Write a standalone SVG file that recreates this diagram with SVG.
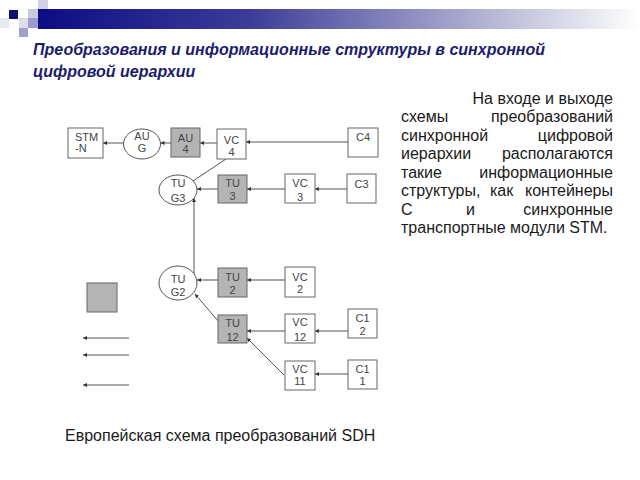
<svg xmlns="http://www.w3.org/2000/svg" width="640" height="480" viewBox="0 0 640 480">
<defs>
<linearGradient id="bar" x1="0" y1="0" x2="1" y2="0">
<stop offset="0" stop-color="#0c0c84"/>
<stop offset="0.35" stop-color="#3c3c98"/>
<stop offset="0.7" stop-color="#a6a6cc"/>
<stop offset="1" stop-color="#ffffff"/>
</linearGradient>
<marker id="ah" viewBox="0 0 6 6" refX="6" refY="3" markerWidth="4" markerHeight="4" orient="auto" markerUnits="userSpaceOnUse">
<path d="M0,0 L6,3 L0,6 z" fill="#333"/>
</marker>
<style>
.box{fill:#fff;stroke:#666;stroke-width:1}
.gbox{fill:#b4b4b4;stroke:#666;stroke-width:1}
.ell{fill:#fff;stroke:#555;stroke-width:1}
.lbl{font-family:"Liberation Sans",Arial,sans-serif;font-size:11px;fill:#444;text-anchor:middle}
.con{stroke:#555;stroke-width:1;fill:none}
.arr{marker-end:url(#ah)}
.body{font-family:"Liberation Sans",Arial,sans-serif;font-size:16px;fill:#1a1a1a}
</style>
</defs>
<rect width="640" height="480" fill="#fff"/>
<g id="header">
<rect x="38" y="9" width="602" height="20" fill="url(#bar)"/>
<rect x="9" y="10" width="9" height="9" fill="#10106e"/>
<rect x="28" y="9" width="10" height="9" fill="#c9c9df"/>
<rect x="38" y="0" width="10" height="9" fill="#d2d2e6"/>
<rect x="0" y="18" width="9" height="10" fill="#e8e8f0"/>
<rect x="19" y="18" width="9" height="10" fill="#dcdcea"/>
<rect x="28" y="18" width="10" height="10" fill="#9a9acc"/>
<rect x="19" y="28" width="9" height="9" fill="#a0a0cc"/>
</g>
<g id="title" font-family="'Liberation Sans',Arial,sans-serif" font-size="16" font-weight="bold" font-style="italic" fill="#1c1c6c">
<text x="33" y="55">Преобразования и информационные структуры в синхронной</text>
<text x="33" y="77">цифровой иерархии</text>
</g>
<g id="connectors">
<line class="con arr" x1="348" y1="142" x2="246" y2="142"/>
<line class="con arr" x1="217" y1="143" x2="200" y2="143"/>
<line class="con arr" x1="171" y1="143" x2="160.5" y2="143"/>
<line class="con arr" x1="123" y1="143" x2="103" y2="143"/>
<line class="con" x1="226" y1="159" x2="193" y2="181"/>
<line class="con arr" x1="347" y1="189" x2="315" y2="189"/>
<line class="con arr" x1="285" y1="189" x2="247" y2="189"/>
<line class="con arr" x1="218" y1="189" x2="197" y2="189"/>
<line class="con arr" x1="194" y1="274" x2="194" y2="198"/>
<line class="con arr" x1="285" y1="280" x2="247" y2="280"/>
<line class="con arr" x1="218" y1="280" x2="197" y2="280" stroke-width="1.5"/>
<line class="con arr" x1="219" y1="322" x2="195" y2="294"/>
<line class="con arr" x1="348" y1="331" x2="315" y2="331"/>
<line class="con arr" x1="285" y1="331" x2="247" y2="331"/>
<line class="con arr" x1="348" y1="374" x2="315" y2="374"/>
<line class="con arr" x1="284" y1="375" x2="247" y2="338"/>
</g>
<g id="STM-N"><rect class="box" x="68" y="128" width="35" height="30"/>
<text class="lbl" x="75" y="141" style="text-anchor:start">STM</text>
<text class="lbl" x="75" y="152" style="text-anchor:start">-N</text></g>
<g id="AUG"><ellipse class="ell" cx="142" cy="144" rx="18.5" ry="15"/>
<text class="lbl" x="142" y="140">AU</text><text class="lbl" x="142" y="152">G</text></g>
<g id="AU4"><rect class="gbox" x="171" y="128" width="29" height="29"/>
<text class="lbl" x="185.5" y="142">AU</text><text class="lbl" x="185.5" y="153">4</text></g>
<g id="VC4"><rect class="box" x="217" y="129" width="29" height="30"/>
<text class="lbl" x="231.5" y="144">VC</text><text class="lbl" x="231.5" y="155.5">4</text></g>
<g id="C4"><rect class="box" x="348" y="128" width="30" height="29"/>
<text class="lbl" x="363" y="141">C4</text></g>
<g id="TUG3"><ellipse class="ell" cx="178" cy="190" rx="19" ry="15"/>
<text class="lbl" x="178" y="187">TU</text><text class="lbl" x="178" y="201.5">G3</text></g>
<g id="TU3"><rect class="gbox" x="218" y="175" width="29" height="28"/>
<text class="lbl" x="232.5" y="187">TU</text><text class="lbl" x="232.5" y="200">3</text></g>
<g id="VC3"><rect class="box" x="285" y="174" width="30" height="29"/>
<text class="lbl" x="300" y="187">VC</text><text class="lbl" x="300" y="201">3</text></g>
<g id="C3"><rect class="box" x="347" y="174" width="29" height="29"/>
<text class="lbl" x="361.5" y="188">C3</text></g>
<g id="TUG2"><ellipse class="ell" cx="178" cy="283" rx="19" ry="17"/>
<text class="lbl" x="178" y="283">TU</text><text class="lbl" x="178" y="296">G2</text></g>
<g id="TU2"><rect class="gbox" x="218" y="268" width="29" height="29"/>
<text class="lbl" x="232.5" y="281">TU</text><text class="lbl" x="232.5" y="293.5">2</text></g>
<g id="VC2"><rect class="box" x="285" y="267" width="30" height="30"/>
<text class="lbl" x="300" y="281">VC</text><text class="lbl" x="300" y="293">2</text></g>
<g id="TU12"><rect class="gbox" x="218" y="315" width="29" height="28"/>
<text class="lbl" x="232.5" y="327">TU</text><text class="lbl" x="232.5" y="341">12</text></g>
<g id="VC12"><rect class="box" x="285" y="314" width="30" height="29"/>
<text class="lbl" x="300" y="326">VC</text><text class="lbl" x="300" y="341">12</text></g>
<g id="C12"><rect class="box" x="348" y="309" width="29" height="29"/>
<text class="lbl" x="362.5" y="322">C1</text><text class="lbl" x="362.5" y="335">2</text></g>
<g id="VC11"><rect class="box" x="285" y="361" width="30" height="29"/>
<text class="lbl" x="300" y="373">VC</text><text class="lbl" x="300" y="385">11</text></g>
<g id="C11"><rect class="box" x="348" y="360" width="29" height="29"/>
<text class="lbl" x="362.5" y="373">C1</text><text class="lbl" x="362.5" y="385">1</text></g>
<g id="legend">
<rect class="gbox" x="87" y="283" width="30" height="29"/>
<line class="con arr" x1="129" y1="338" x2="83" y2="338"/>
<line class="con arr" x1="129" y1="355" x2="83" y2="355"/>
<line class="con arr" x1="129" y1="385" x2="83" y2="385"/>
</g>
<g id="description" class="body">
<text x="613" y="103.5" text-anchor="end">На входе и выходе</text>
<text x="401" y="122">схемы</text><text x="613" y="122" text-anchor="end">преобразований</text>
<text x="401" y="140.5">синхронной</text><text x="613" y="140.5" text-anchor="end">цифровой</text>
<text x="401" y="159">иерархии</text><text x="613" y="159" text-anchor="end">располагаются</text>
<text x="401" y="177.5">такие</text><text x="613" y="177.5" text-anchor="end">информационные</text>
<text x="401" y="196">структуры,</text><text x="490" y="196">как</text><text x="613" y="196" text-anchor="end">контейнеры</text>
<text x="401" y="214.5">С</text><text x="466" y="214.5">и</text><text x="613" y="214.5" text-anchor="end">синхронные</text>
<text x="401" y="233">транспортные модули STM.</text>
</g>
<g id="caption">
<text x="65" y="441" font-family="'Liberation Sans',Arial,sans-serif" font-size="16" fill="#1a1a1a">Европейская схема преобразований SDH</text>
</g>
</svg>
